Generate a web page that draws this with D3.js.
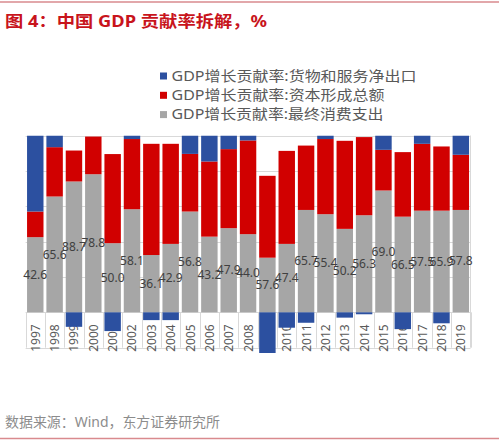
<!DOCTYPE html>
<html><head><meta charset="utf-8">
<script src="https://cdn.jsdelivr.net/npm/d3@7"></script>
<style>html,body{margin:0;padding:0;background:#fff;}svg{display:block;}</style>
</head><body>
<svg id="c" width="499" height="441"></svg>
<script>
const years = ["1997","1998","1999","2000","2001","2002","2003","2004","2005","2006","2007","2008","2009","2010","2011","2012","2013","2014","2015","2016","2017","2018","2019"];
const consumption = [42.5,65.5,74.0,78.1,39.1,58.3,32.4,38.7,57.0,42.8,47.6,44.2,30.9,38.7,57.9,55.5,47.2,54.9,68.9,54.1,57.5,57.5,57.9];
const capital = [14.5,27.9,17.5,21.3,50.4,39.7,62.9,56.6,32.6,42.5,44.7,53.0,46.3,52.6,36.4,42.5,49.8,44.2,23.0,36.5,37.8,36.3,31.2];
const netExports = [43.0,6.6,-8.2,0,-10.6,2.0,-4.4,-4.4,10.4,14.7,7.7,2.8,-23.0,-8.7,-5.9,2.0,-3.0,-1.1,8.1,-9.5,4.7,-6.2,10.9];
const consumptionLabels = ["42.6","65.6","88.7","78.8","50.0","58.1","36.1","42.9","56.8","43.2","47.9","44.0","57.6","47.4","65.7","55.4","50.2","56.3","69.0","66.5","57.5","65.9","57.8"];
const seriesNames = ["GDP增长贡献率:货物和服务净出口","GDP增长贡献率:资本形成总额","GDP增长贡献率:最终消费支出"];
const yTicks = [-20,0,20,40,60,80,100];

const colors = {net:"#2c50a0", cap:"#d10000", con:"#a6a6a6"};
const svg = d3.select("#c");
const FONT = "'Noto Sans','Noto Sans CJK SC',sans-serif";

// frame lines
svg.append("line").attr("x1",0).attr("x2",499).attr("y1",2).attr("y2",2).attr("stroke","#d98a8e").attr("stroke-width",1.5);
svg.append("line").attr("x1",0).attr("x2",499).attr("y1",438.5).attr("y2",438.5).attr("stroke","#d98a8e").attr("stroke-width",1.5);

// title
svg.append("text").attr("x",5).attr("y",26.5).attr("fill","#c8141c")
  .attr("font-family",FONT).attr("font-size",16).attr("font-weight","bold")
  .attr("textLength",262).attr("lengthAdjust","spacingAndGlyphs")
  .text("图 4：中国 GDP 贡献率拆解，%");

// source
svg.append("text").attr("x",5).attr("y",426.5).attr("fill","#8c8c8c")
  .attr("font-family",FONT).attr("font-size",13.5)
  .attr("textLength",215).attr("lengthAdjust","spacingAndGlyphs")
  .text("数据来源：Wind，东方证券研究所");

// legend
const legColors = [colors.net, colors.cap, colors.con];
const legW = [245, 213, 212];
seriesNames.forEach((n,i)=>{
  const y = 80.5 + i*19.3;
  svg.append("rect").attr("x",160).attr("y",y-8).attr("width",7).attr("height",7).attr("fill",legColors[i]);
  svg.append("text").attr("x",171.5).attr("y",y).attr("fill","#595959")
    .attr("font-family",FONT).attr("font-size",14)
    .attr("textLength",legW[i]).attr("lengthAdjust","spacingAndGlyphs").text(n);
});

// scales
const x = d3.scaleBand().domain(years).range([25.6,470.5]).paddingInner(0.15).paddingOuter(0.075);
const y = d3.scaleLinear().domain([-23,100]).range([353,135.5]);

// gridlines
svg.append("g").selectAll("line").data(yTicks).join("line")
  .attr("x1",25.6).attr("x2",470.5).attr("y1",d=>Math.round(y(d))+0.5).attr("y2",d=>Math.round(y(d))+0.5)
  .attr("stroke","#d9d9d9").attr("stroke-width",1);
// right border
svg.append("line").attr("x1",470.5).attr("x2",470.5).attr("y1",135.5).attr("y2",y(-20)).attr("stroke","#d9d9d9");

// category separators below zero
const bounds = years.map(yr=>x(yr)-x.step()*x.paddingInner()/2).concat([x(years[years.length-1])+x.bandwidth()+x.step()*x.paddingInner()/2]);
svg.append("g").selectAll("line").data(bounds).join("line")
  .attr("x1",d=>Math.round(d)+0.5).attr("x2",d=>Math.round(d)+0.5)
  .attr("y1",y(0)).attr("y2",y(-20)).attr("stroke","#d9d9d9");

// year labels
svg.append("g").selectAll("text").data(years).join("text")
  .attr("transform",d=>`translate(${x(d)+x.bandwidth()/2+4.5},${y(0)+12}) rotate(-90)`)
  .attr("text-anchor","end").attr("fill","#595959")
  .attr("font-family",FONT).attr("font-size",12).text(d=>d);

// stacked bars
const table = years.map((yr,i)=>({year:yr, con:consumption[i], cap:capital[i], net:netExports[i]}));
const keys = ["con","cap","net"];
const stack = d3.stack().keys(keys).offset(d3.stackOffsetDiverging)(table);

svg.append("clipPath").attr("id","clip").append("rect").attr("x",0).attr("y",y(100)).attr("width",499).attr("height",y(-23)-y(100));
const g = svg.append("g").attr("clip-path","url(#clip)");
stack.forEach(s=>{
  g.append("g").attr("fill",colors[s.key]).selectAll("rect").data(s).join("rect")
    .attr("x",d=>x(d.data.year))
    .attr("width",x.bandwidth())
    .attr("y",d=>y(Math.max(d[0],d[1])))
    .attr("height",d=>Math.abs(y(d[0])-y(d[1])));
});

// data labels on consumption
const conStack = stack[0];
svg.append("g").selectAll("text").data(conStack).join("text")
  .attr("x",d=>x(d.data.year)+x.bandwidth()/2)
  .attr("y",d=>(y(d[0])+y(d[1]))/2)
  .attr("dy","0.35em").attr("text-anchor","middle").attr("fill","#404040")
  .attr("font-family",FONT).attr("font-size",12)
  .text((d,i)=>consumptionLabels[i]);
</script>
</body></html>
